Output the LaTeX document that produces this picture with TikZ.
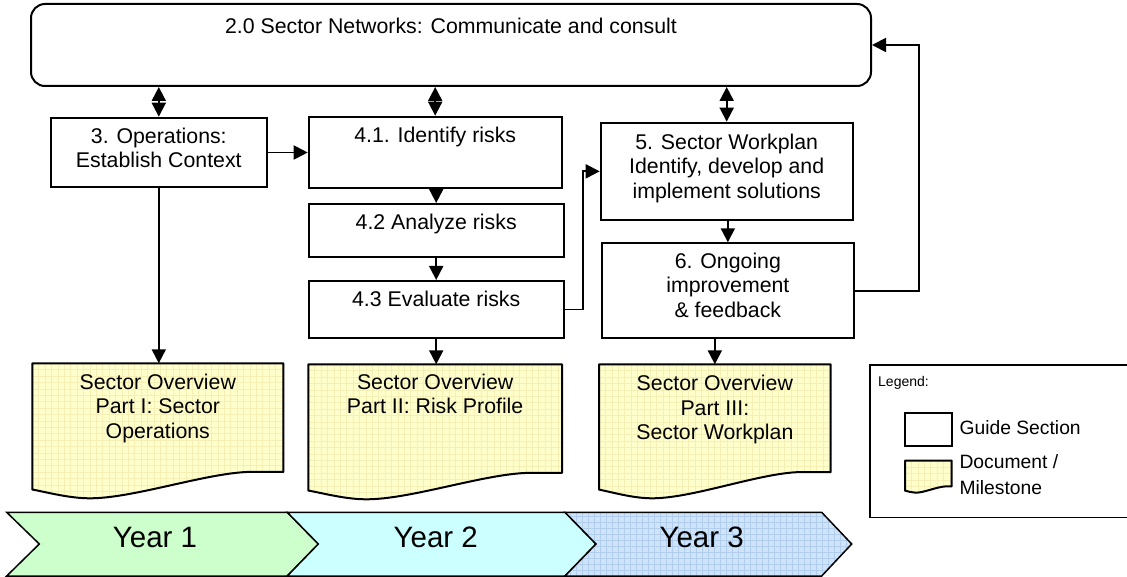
\documentclass[tikz,border=0pt]{standalone}
\usepackage{fontspec}
\setmainfont{Liberation Sans}
\usetikzlibrary{arrows.meta,calc}

\definecolor{docfill}{HTML}{FFFFCC}
\definecolor{docgrid}{HTML}{F5EFB6}
\definecolor{yearone}{HTML}{CCFFCC}
\definecolor{yeartwo}{HTML}{CCFFFF}
\definecolor{yearthree}{HTML}{D0E4F9}
\definecolor{yeargrid}{HTML}{B2CEEE}

\tikzset{
  every node/.style={font=\fontsize{21.3}{24.5}\selectfont, inner sep=0pt},
  guide/.style={draw, line width=2pt, fill=white},
  lbl/.style={align=center},
  docbody/.style={outer sep=0pt},
  docstyle/.style={draw, line width=2pt, fill=docfill, line join=round,
    path picture={\draw[docgrid, line width=0.6pt, step=6.4pt]
      (path picture bounding box.south west) grid (path picture bounding box.north east);}},
  yearbar/.style={draw, line width=1.5pt, line join=miter},
  yeartext/.style={font=\fontsize{29.5}{32}\selectfont},
  link/.style={line width=1.9pt, -{Triangle[length=14pt,width=14pt]}},
  twoway/.style={line width=1.9pt, {Triangle[length=14pt,width=14pt]}-{Triangle[length=14pt,width=14pt]}},
}

% document outline with a wavy lower edge, drawn from a node's north west corner
\newcommand\docoutline[3]{%
  \begin{scope}[shift={(#1.north west)}]
    \path[docstyle] (0,0) -- (#2,0) -- (#2,0.805*#3) -- (0.855*#2,0.805*#3)
      .. controls (0.68*#2,0.82*#3) and (0.40*#2,#3) .. (0.23*#2,#3)
      .. controls (0.15*#2,#3) and (0.07*#2,0.96*#3) .. (0,0.935*#3) -- cycle;
  \end{scope}}

\begin{document}
\begin{tikzpicture}[x=1pt, y=-1pt]
\useasboundingbox (0,0) rectangle (1127,577);

% top network box
\node[guide, rounded corners=14pt, minimum width=840pt, minimum height=82pt] (net) at (451,45) {};
\node[anchor=base] (nett) at (451,33.3) {2.0 Sector Networks: Communicate and consult};

% guide sections
\node[guide, minimum width=215.7pt, minimum height=69.6pt] (b3) at (158.8,152.5) {};
\node[lbl] (b3t) at (158.8,148) {3. Operations:\\Establish Context};

\node[guide, minimum width=253pt, minimum height=71pt] (b41) at (435.2,152.2) {};
\node[anchor=base] (b41t) at (435.2,142.6) {4.1. Identify risks};

\node[guide, minimum width=255pt, minimum height=53.3pt] (b42) at (436.2,230.65) {};
\node[anchor=base] (b42t) at (436.2,229.6) {4.2 Analyze risks};

\node[guide, minimum width=255pt, minimum height=57pt] (b43) at (436.2,309.5) {};
\node[anchor=base] (b43t) at (436.2,306.6) {4.3 Evaluate risks};

\node[guide, minimum width=252pt, minimum height=97.3pt] (b5) at (726.7,171.35) {};
\node[lbl] (b5t) at (726.7,168) {5. Sector Workplan\\Identify, develop and\\implement solutions};

\node[guide, minimum width=252.3pt, minimum height=94.7pt] (b6) at (727.85,290.65) {};
\node[lbl] (b6t) at (727.85,285) {6. Ongoing\\improvement\\\& feedback};

% documents / milestones
\node[docbody, minimum width=251pt, minimum height=135pt] (d1) at (157.8,430.8) {};
\docoutline{d1}{251}{135}
\node[lbl] (d1t) at (157.8,408.1) {Sector Overview\\Part I: Sector\\Operations};

\node[docbody, minimum width=253.7pt, minimum height=135pt] (d2) at (435.15,431.8) {};
\docoutline{d2}{253.7}{135}
\node[lbl] (d2t) at (435.15,393.9) {Sector Overview\\Part II: Risk Profile};

\node[docbody, minimum width=231.7pt, minimum height=134pt] (d3) at (714.85,431.3) {};
\docoutline{d3}{231.7}{134}
\node[lbl] (d3t) at (714.85,409.6) {Sector Overview\\Part III:\\Sector Workplan};

% connectors
\draw[twoway] (net.south -| b3.north) -- (b3.north);
\draw[twoway] (net.south -| b41.north) -- (b41.north);
\draw[twoway] (net.south -| b5.north) -- (b5.north);
\draw[link] (b3.east) -- (b3.east -| b41.west);
\draw[link] (b42.north |- b41.south) -- (b42.north);
\draw[link] (b42.south) -- (b43.north);
\draw[link] (b43.east) -- ++(18.5,0) |- (b5.west);
\draw[link] (b6.north |- b5.south) -- (b6.north);
\draw[link] (b6.east) -- ++(64.3,0) |- (net.east);
\draw[link] (b3.south) -- (b3.south |- d1.north);
\draw[link] (b43.south) -- (b43.south |- d2.north);
\draw[link] (d3.north |- b6.south) -- (d3.north);

% legend
\node[draw, line width=1.5pt, minimum width=266pt, minimum height=152.4pt, anchor=north west] (leg) at (869,364.3) {};
\node[anchor=west, font=\fontsize{14}{16}\selectfont] (legt) at (878,382.5) {Legend:};
\node[guide, line width=1.8pt, minimum width=46.7pt, minimum height=32.7pt] (lgbox) at (928.35,429.65) {};
\node[docbody, minimum width=46.7pt, minimum height=32pt] (lgdoc) at (928.35,476.7) {};
\docoutline{lgdoc}{46.7}{32}
\node[anchor=west, font=\fontsize{19.3}{26.3}\selectfont] (lgboxt) at (959.3,427.5) {Guide Section};
\node[anchor=west, align=left, font=\fontsize{19.3}{26.3}\selectfont] (lgdoct) at (959.3,474.9) {Document /\\Milestone};

% timeline
\path[yearbar, fill=yearone] (6.7,512.3) -- (287.3,512.3) -- (318.3,544) -- (287.3,576) -- (6.7,576) -- (39.3,544) -- cycle;
\path[yearbar, fill=yeartwo] (287.3,512.3) -- (565,512.3) -- (596,544) -- (565,576) -- (287.3,576) -- (318.3,544) -- cycle;
\path[yearbar, fill=yearthree, path picture={\draw[yeargrid, line width=0.6pt, step=6pt]
      (path picture bounding box.south west) grid (path picture bounding box.north east);}]
  (565,512.3) -- (821.7,512.3) -- (851.7,544) -- (821.7,576) -- (565,576) -- (596,544) -- cycle;
\node[yeartext] (y1) at (155,537.5) {Year 1};
\node[yeartext] (y2) at (435.8,537.8) {Year 2};
\node[yeartext] (y3) at (701.7,537.8) {Year 3};
\end{tikzpicture}
\end{document}
